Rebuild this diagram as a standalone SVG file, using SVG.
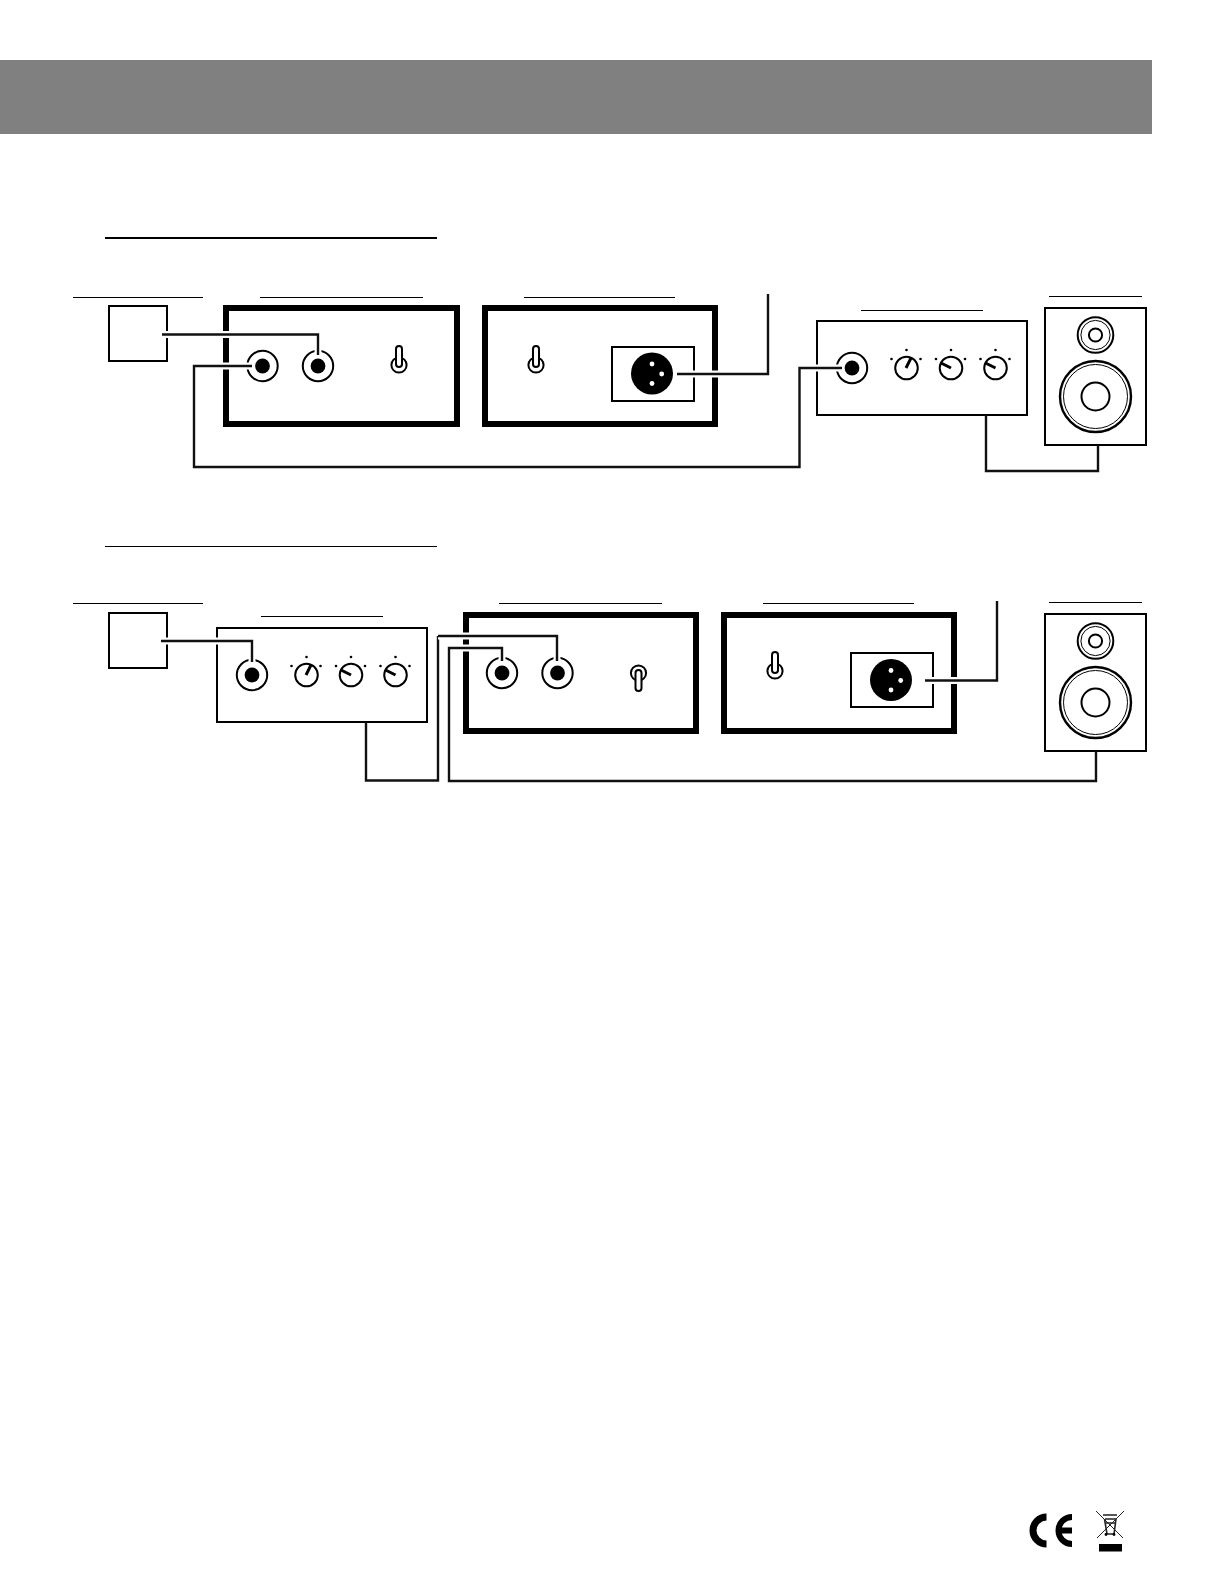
<svg xmlns="http://www.w3.org/2000/svg" width="1224" height="1584" viewBox="0 0 1224 1584">
<style>
.ln{fill:none;stroke:#000;stroke-width:2}
.thick{fill:none;stroke:#000;stroke-width:6}
.rule{stroke:#000;stroke-width:1;fill:none}
.rule2{stroke:#000;stroke-width:2;fill:none}
.thin{fill:none;stroke:#000;stroke-width:1}
.wire{fill:none;stroke:#111;stroke-width:2.4;stroke-linejoin:miter}
.halo{fill:none;stroke:#fff;stroke-width:7}
.ptr{stroke:#000;stroke-width:3;fill:none}
</style>
<defs>
<g id="jack"><circle r="15.200" class="ln"/><circle r="7.400" fill="#000"/></g>
<g id="knob"><circle r="11.300" class="ln" fill="#fff"/><circle cy="-18" r="1.300" fill="#000"/><circle cx="-15" cy="-9" r="1.300" fill="#000"/><circle cx="14" cy="-9" r="1.300" fill="#000"/></g>
<g id="toggle"><circle r="7.600" fill="#fff" stroke="#000" stroke-width="2"/><rect x="-3" y="-19" width="6" height="21" rx="3" fill="#fff" stroke="#000" stroke-width="2"/></g>
<g id="toggleDown"><circle r="7.600" fill="#fff" stroke="#000" stroke-width="2"/><rect x="-3" y="-3" width="6" height="21" rx="3" fill="#fff" stroke="#000" stroke-width="2"/></g>
<g id="xlr"><circle r="21" fill="#000"/><circle cy="-9.500" r="2.400" fill="#fff"/><circle cx="9.700" cy="0.500" r="2.400" fill="#fff"/><circle cy="10" r="2.400" fill="#fff"/></g>
<g id="speaker">
<rect x="-51" y="0" width="101" height="137" class="ln"/>
<circle cx="-0.500" cy="27" r="17.800" class="ln"/><circle cx="-0.500" cy="27" r="14.600" class="thin"/><circle cx="-0.500" cy="27" r="6.600" class="ln"/>
<circle cx="-0.500" cy="88.500" r="35.500" stroke-width="2.400" fill="none" stroke="#000"/><circle cx="-0.500" cy="88.500" r="32" class="thin"/><circle cx="-0.500" cy="88.500" r="14" class="ln"/>
</g>
</defs>
<rect id="header" x="0" y="60" width="1152" height="74" fill="#808080"/>
<path id="rule-a" class="rule2" d="M105 238H437"/>
<path id="rule-b" class="rule" d="M105 546.500H437"/>

<g id="a-source"><path class="rule" d="M73 297.500H203"/><rect x="109" y="306" width="58" height="55" class="ln"/></g>
<g id="a-unit1"><path class="rule" d="M260 297.500H423"/><rect x="226" y="308" width="231" height="116" class="thick"/>
<use href="#jack" x="262.500" y="366"/><use href="#jack" x="318" y="366"/><use href="#toggle" x="399" y="365"/></g>
<g id="a-unit2"><path class="rule" d="M524 297.500H675"/><rect x="485" y="308" width="230" height="116" class="thick"/>
<use href="#toggle" x="536" y="365"/><rect x="612" y="347" width="82" height="54" class="ln"/><use href="#xlr" x="652" y="373.500"/></g>
<g id="a-amp"><path class="rule" d="M861 310.500H983"/><rect x="817" y="321" width="210" height="94" class="ln"/>
<use href="#jack" x="852" y="368"/>
<use href="#knob" x="906.500" y="368"/><path class="ptr" d="M906 368L911 358"/>
<use href="#knob" x="951" y="368"/><path class="ptr" d="M951 368L941 363"/>
<use href="#knob" x="995.500" y="368"/><path class="ptr" d="M995.500 368L985.500 363"/></g>
<g id="a-speaker"><path class="rule" d="M1049 296.500H1142"/><use href="#speaker" x="1096" y="308"/></g>

<g id="b-source"><path class="rule" d="M73 603.500H203"/><rect x="109" y="613" width="58" height="55" class="ln"/></g>
<g id="b-amp"><path class="rule" d="M261 616.500H383"/><rect x="217" y="628" width="210" height="94" class="ln"/>
<use href="#jack" x="252" y="675"/>
<use href="#knob" x="306.500" y="675"/><path class="ptr" d="M306 675L311 665"/>
<use href="#knob" x="351" y="675"/><path class="ptr" d="M351 675L341 670"/>
<use href="#knob" x="395.500" y="675"/><path class="ptr" d="M395.500 675L385.500 670"/></g>
<g id="b-unit1"><path class="rule" d="M499 603.500H662"/><rect x="466" y="615" width="230" height="116" class="thick"/>
<use href="#jack" x="502" y="673"/><use href="#jack" x="557.500" y="673"/><use href="#toggleDown" x="638.500" y="673"/></g>
<g id="b-unit2"><path class="rule" d="M763 603.500H914"/><rect x="724" y="615" width="230" height="116" class="thick"/>
<use href="#toggle" x="775" y="671"/><rect x="851" y="653" width="82" height="54" class="ln"/><use href="#xlr" x="891" y="680"/></g>
<g id="b-speaker"><path class="rule" d="M1049 602.500H1142"/><use href="#speaker" x="1096" y="614"/></g>

<g id="connectors">
<path class="halo" d="M162 334.500H318V355"/><path class="wire" d="M162 334.500H318V355"/>
<path class="halo" d="M252 366H194V467H799.500V368H842"/><path class="wire" d="M252 366H194V467H799.500V368H842"/>
<path class="halo" d="M677 374H768"/><path class="wire" d="M677 374H768V294"/>
<path class="wire" d="M986 415V471H1098V445"/>
<path class="halo" d="M161 641H252V662"/><path class="wire" d="M161 641H252V662"/>
<path class="wire" d="M366 722V780.500H438V636"/>
<path class="halo" d="M438 636H557V661"/><path class="wire" d="M438 636H557V661"/>
<path class="halo" d="M449 648H502V661"/><path class="wire" d="M1096 751V781H449V648H502V661"/>
<path class="halo" d="M925 680.500H997"/><path class="wire" d="M925 680.500H997V601"/>
</g>

<g id="ce-mark" fill="none" stroke="#000" stroke-width="7">
<path d="M1046.500 1517A13.500 13.500 0 0 0 1046.500 1544"/>
<path d="M1072 1517A13.500 13.500 0 0 0 1072 1544M1059 1530.500H1072" stroke-width="6"/>
</g>
<g id="weee-mark" fill="none" stroke="#222">
<path stroke-width="1" d="M1096 1511L1123 1538M1124 1511L1097 1538"/>
<path stroke-width="1.600" d="M1105 1519H1116M1103 1515H1117M1104.500 1519L1107 1534H1114L1116 1519M1106 1523H1115"/>
<circle cx="1106" cy="1534.500" r="1.400" fill="#000" stroke="none"/><circle cx="1114" cy="1534.500" r="1.400" fill="#000" stroke="none"/>
<rect x="1099" y="1544" width="23" height="7.500" fill="#000" stroke="none"/>
</g>
</svg>
